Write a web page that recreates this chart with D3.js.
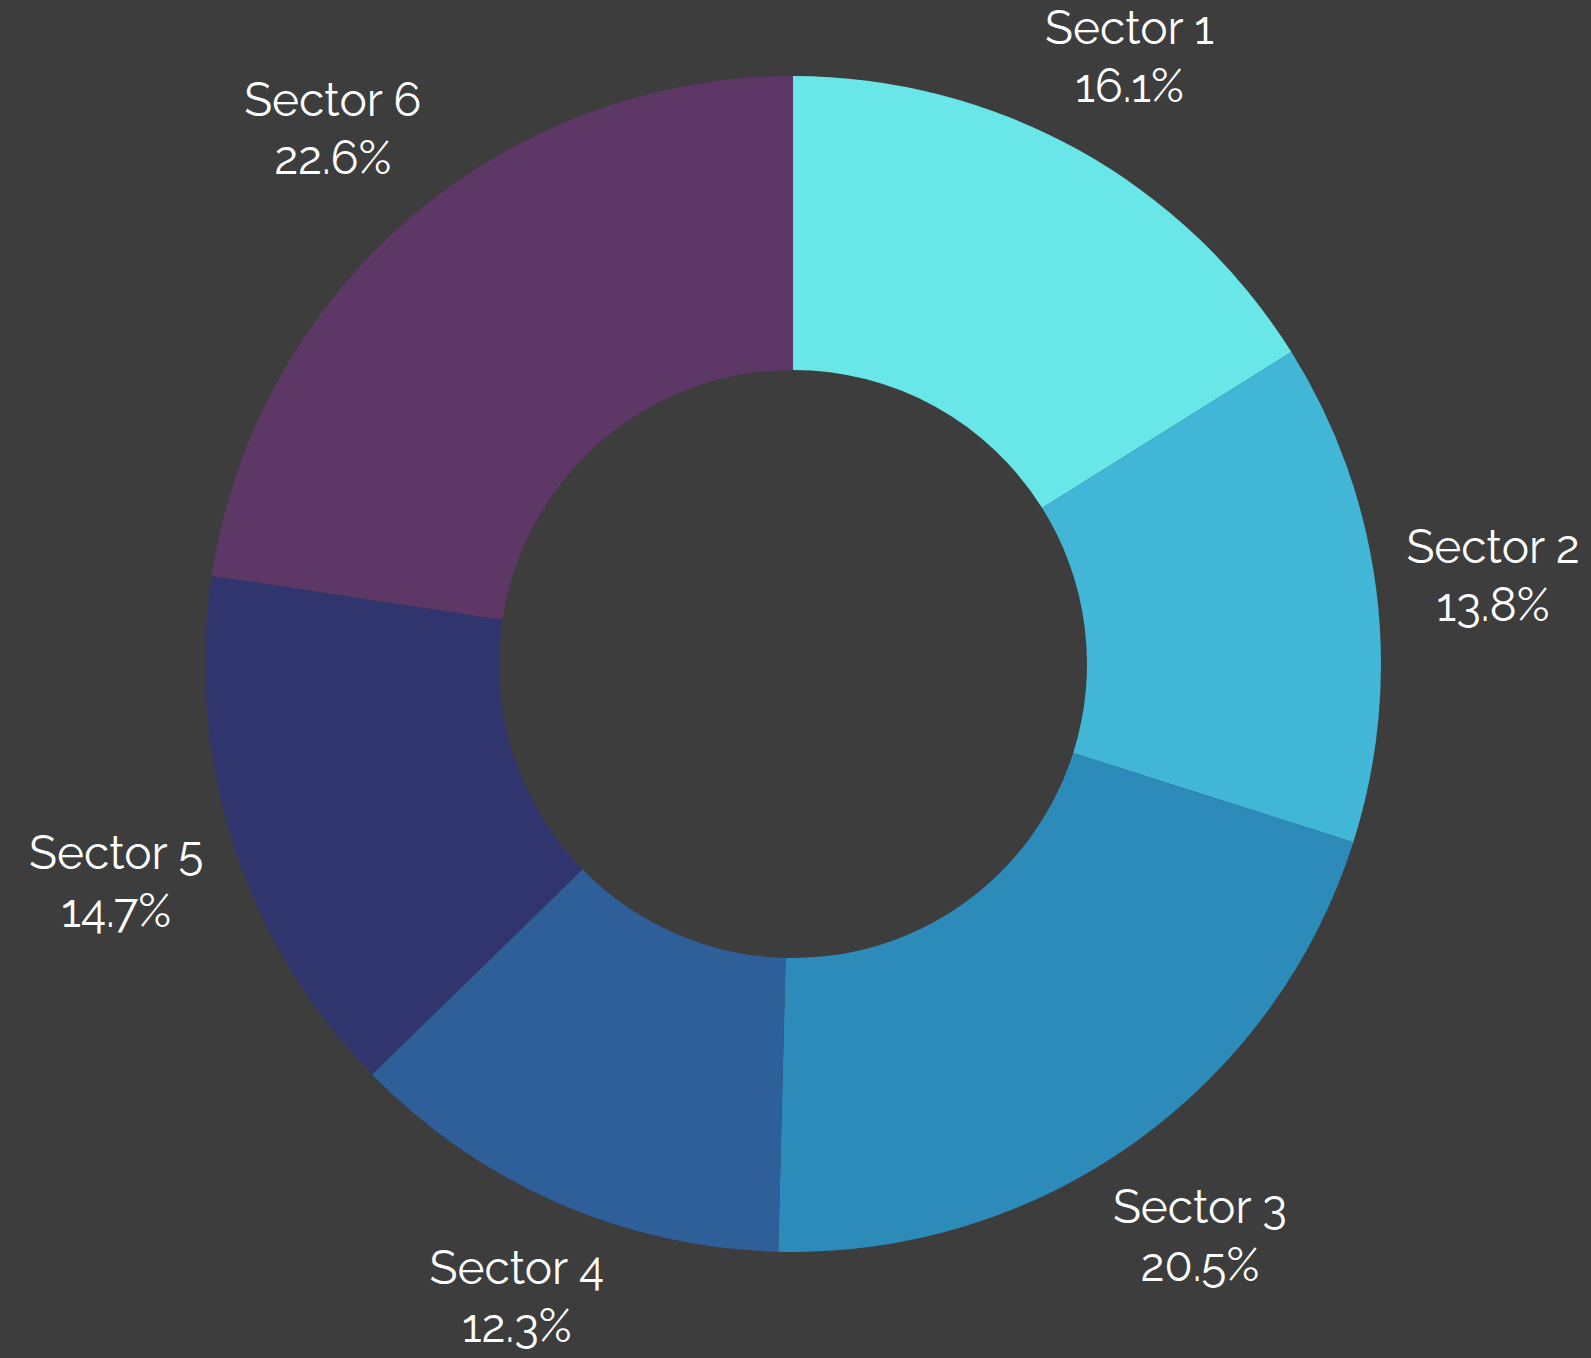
<!DOCTYPE html>
<html>
<head>
<meta charset="utf-8">
<script src="https://cdn.jsdelivr.net/npm/d3@7"></script>
<style>
  html, body { margin: 0; padding: 0; background: #3d3d3d; }
  text { font-family: Raleway, Lato, "Open Sans", sans-serif; fill: #ffffff; }
</style>
</head>
<body>
<svg id="chart"></svg>
<script>
var sectors = ["Sector 1", "Sector 2", "Sector 3", "Sector 4", "Sector 5", "Sector 6"];
var shares = [16.1, 13.8, 20.5, 12.3, 14.7, 22.6];
var palette = ["#69e6e8", "#41b6d6", "#2d8bba", "#2f5f98", "#31356d", "#5d3866"];

var width = 1591,
    height = 1358;
var cx = 793, cy = 664;
var outerR = 588, innerR = 294;
// labels sit just outside the ring: nearest edge of the text box at this radius
var labelGap = 614;
var fontSize = 46, lineGap = 58, capH = 0.71 * fontSize;

var svg = d3.select("#chart")
    .attr("width", width)
    .attr("height", height)
    .style("display", "block");

var g = svg.append("g").attr("transform", "translate(" + cx + "," + cy + ")");

var data = sectors.map(function(s, i) { return { name: s, value: shares[i] }; });

var pie = d3.pie().sort(null).value(function(d) { return d.value; });
var arc = d3.arc().innerRadius(innerR).outerRadius(outerR);
var color = d3.scaleOrdinal().domain(sectors).range(palette);

var arcs = pie(data);

g.selectAll("path.slice")
    .data(arcs)
  .enter().append("path")
    .attr("class", "slice")
    .attr("d", arc)
    .attr("fill", function(d) { return color(d.data.name); });

var total = d3.sum(shares);

var labels = g.selectAll("text.label")
    .data(arcs)
  .enter().append("text")
    .attr("class", "label")
    .attr("text-anchor", "middle")
    .style("font-size", fontSize + "px");

labels.append("tspan")
    .attr("x", 0)
    .attr("y", 0)
    .text(function(d) { return d.data.name; });

labels.append("tspan")
    .attr("x", 0)
    .attr("y", lineGap)
    .text(function(d) { return (d.data.value / total * 100).toFixed(1) + "%"; });

labels.attr("transform", function(d) {
  var a = (d.startAngle + d.endAngle) / 2;
  var hw = this.getBBox().width / 2;
  var hh = (lineGap + capH) / 2;
  var r = labelGap + hw * Math.abs(Math.sin(a)) + hh * Math.abs(Math.cos(a));
  var x = r * Math.sin(a),
      y = -r * Math.cos(a) - (lineGap - capH) / 2;
  return "translate(" + x + "," + y + ")";
});
</script>
</body>
</html>
